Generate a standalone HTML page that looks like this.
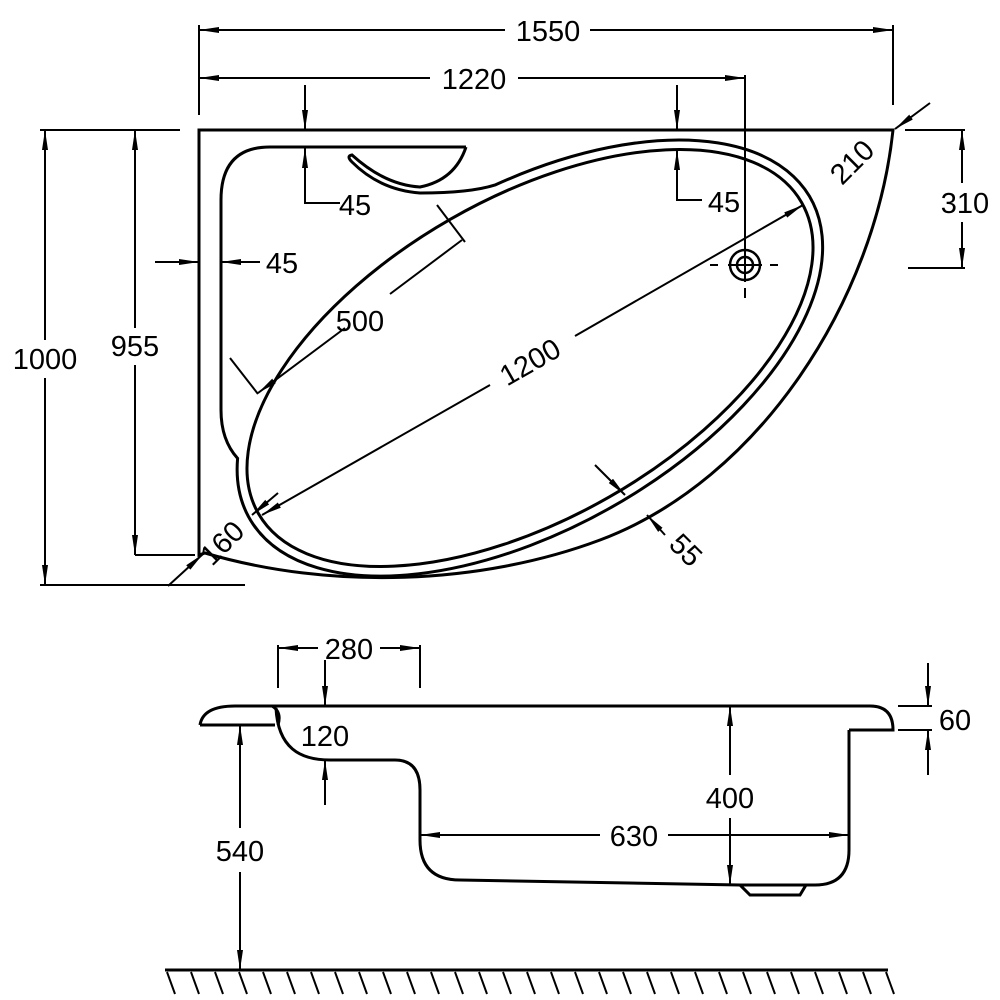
<!DOCTYPE html>
<html><head><meta charset="utf-8"><style>
html,body{margin:0;padding:0;background:#fff}
svg{display:block}
text{font-family:"Liberation Sans",sans-serif;font-size:29px;fill:#000}
</style></head><body>
<svg width="1000" height="1000" viewBox="0 0 1000 1000" xmlns="http://www.w3.org/2000/svg">
<defs>
<marker id="a" viewBox="0 0 20 8" refX="20" refY="4" markerWidth="20" markerHeight="8" markerUnits="userSpaceOnUse" orient="auto-start-reverse">
<path d="M0,1 L20,4 L0,7 Z" fill="#000"/>
</marker>
</defs>
<g fill="none" stroke="#000" stroke-width="3">
<path d="M199,555 L199,130 L893,130 C875,300 760,480 600,540 C480,585 330,590 205,553 Z"/>
<ellipse cx="530" cy="358" rx="313" ry="160" transform="rotate(-29.8 530 358)"/>
<path d="M466,147 L270,147 Q221,147 221,200 L221,410 Q221,440 237.6,458.4 A323,170 -29.8 1 0 495.6,184.8 Q470,193 420,193 Q380,190 352,162 Q346,156 352,155 Q385,185 420,187 Q455,180 466,147"/>
<circle cx="745" cy="265" r="15" stroke-width="2.5"/>
<circle cx="745" cy="265" r="8" stroke-width="2.5"/>
</g>
<g fill="none" stroke="#000" stroke-width="2">
<line x1="745" y1="250" x2="745" y2="282"/><line x1="728" y1="265" x2="762" y2="265"/>
<path d="M710,265 h8 M770,265 h8 M745,288 v10" />
<line x1="199" y1="25" x2="199" y2="115"/><line x1="893" y1="25" x2="893" y2="105"/>
<line x1="199" y1="30" x2="505" y2="30" marker-start="url(#a)"/>
<line x1="590" y1="30" x2="893" y2="30" marker-end="url(#a)"/>
<line x1="745" y1="75" x2="745" y2="250"/>
<line x1="199" y1="78" x2="430" y2="78" marker-start="url(#a)"/>
<line x1="518" y1="78" x2="745" y2="78" marker-end="url(#a)"/>
<line x1="305" y1="85" x2="305" y2="130" marker-end="url(#a)"/>
<path d="M305,148 L305,203 L340,203" marker-start="url(#a)"/>
<line x1="677" y1="85" x2="677" y2="130" marker-end="url(#a)"/>
<path d="M677,150 L677,200 L702,200" marker-start="url(#a)"/>
<line x1="155" y1="262" x2="199" y2="262" marker-end="url(#a)"/>
<line x1="260" y1="262" x2="221" y2="262" marker-end="url(#a)"/>
<line x1="40" y1="130" x2="180" y2="130"/><line x1="40" y1="585" x2="245" y2="585"/>
<line x1="45" y1="130" x2="45" y2="340" marker-start="url(#a)"/>
<line x1="45" y1="378" x2="45" y2="585" marker-end="url(#a)"/>
<line x1="135" y1="555" x2="195" y2="555"/>
<line x1="135" y1="130" x2="135" y2="328" marker-start="url(#a)"/>
<line x1="135" y1="365" x2="135" y2="555" marker-end="url(#a)"/>
<line x1="905" y1="130" x2="965" y2="130"/><line x1="908" y1="268" x2="965" y2="268"/>
<line x1="962" y1="130" x2="962" y2="183" marker-start="url(#a)"/>
<line x1="962" y1="222" x2="962" y2="268" marker-end="url(#a)"/>
<line x1="930" y1="103" x2="895" y2="129" marker-end="url(#a)"/>
<line x1="262" y1="515" x2="490" y2="385" marker-start="url(#a)"/>
<line x1="575" y1="336" x2="803" y2="205" marker-end="url(#a)"/>
<line x1="258" y1="393" x2="345" y2="328" marker-start="url(#a)"/>
<line x1="390" y1="294" x2="462" y2="240"/>
<line x1="437" y1="205" x2="465" y2="242"/>
<line x1="230" y1="358" x2="258" y2="394"/>
<line x1="595" y1="465" x2="625" y2="495" marker-end="url(#a)"/>
<line x1="665" y1="535" x2="647" y2="515" marker-end="url(#a)"/>
<line x1="278" y1="493" x2="252" y2="515" marker-end="url(#a)"/>
<line x1="168" y1="586" x2="203" y2="554" marker-end="url(#a)"/>
</g>
<g fill="none" stroke="#000" stroke-width="3">
<path d="M200,725 Q203,706 235,706 L855,706"/>
<path d="M200,725 L275,725 M235,706 L272,706 Q282,712 278,725"/>
<path d="M276,708 C278,748 300,760 330,760 L395,760 Q420,760 420,790 L420,840 Q420,880 460,880 L740,885"/>
<path d="M849,730 L849,850 Q849,885 815,885 L740,885 L750,895 L800,895 L806,885"/>
<path d="M849,730 L893,730 Q893,706 870,706 L855,706"/>
</g>
<g fill="none" stroke="#000" stroke-width="2">
<line x1="278" y1="645" x2="278" y2="688"/><line x1="420" y1="645" x2="420" y2="688"/>
<line x1="278" y1="648" x2="318" y2="648" marker-start="url(#a)"/>
<line x1="380" y1="648" x2="420" y2="648" marker-end="url(#a)"/>
<line x1="325" y1="660" x2="325" y2="706" marker-end="url(#a)"/>
<line x1="325" y1="805" x2="325" y2="760" marker-end="url(#a)"/>
<line x1="240" y1="725" x2="240" y2="828" marker-start="url(#a)"/>
<line x1="240" y1="872" x2="240" y2="970" marker-end="url(#a)"/>
<line x1="730" y1="706" x2="730" y2="775" marker-start="url(#a)"/>
<line x1="730" y1="818" x2="730" y2="885" marker-end="url(#a)"/>
<line x1="420" y1="835" x2="600" y2="835" marker-start="url(#a)"/>
<line x1="668" y1="835" x2="849" y2="835" marker-end="url(#a)"/>
<line x1="898" y1="706" x2="932" y2="706"/><line x1="898" y1="730" x2="932" y2="730"/>
<line x1="928" y1="663" x2="928" y2="706" marker-end="url(#a)"/>
<line x1="928" y1="775" x2="928" y2="730" marker-end="url(#a)"/>
</g>
<line x1="165" y1="970" x2="888" y2="970" stroke="#000" stroke-width="3"/>
<g stroke="#000" stroke-width="2">
<path d="M167,972 l8,22 M191,972 l8,22 M215,972 l8,22 M239,972 l8,22 M263,972 l8,22 M287,972 l8,22 M311,972 l8,22 M335,972 l8,22 M359,972 l8,22 M383,972 l8,22 M407,972 l8,22 M431,972 l8,22 M455,972 l8,22 M479,972 l8,22 M503,972 l8,22 M527,972 l8,22 M551,972 l8,22 M575,972 l8,22 M599,972 l8,22 M623,972 l8,22 M647,972 l8,22 M671,972 l8,22 M695,972 l8,22 M719,972 l8,22 M743,972 l8,22 M767,972 l8,22 M791,972 l8,22 M815,972 l8,22 M839,972 l8,22 M863,972 l8,22 M886,972 l8,22"/>
</g>
<g text-anchor="middle">
<text x="548" y="41">1550</text>
<text x="474" y="89">1220</text>
<text x="355" y="215">45</text>
<text x="724" y="212">45</text>
<text x="282" y="273">45</text>
<text x="45" y="369">1000</text>
<text x="135" y="356">955</text>
<text x="965" y="213">310</text>
<text x="360" y="331">500</text>
<text x="530" y="372" transform="rotate(-29.8 530 362)">1200</text>
<text x="852" y="172" transform="rotate(-45 852 162)">210</text>
<text x="222" y="553" transform="rotate(-45 222 543)">160</text>
<text x="686" y="560" transform="rotate(45 686 550)">55</text>
<text x="349" y="659">280</text>
<text x="325" y="746">120</text>
<text x="240" y="861">540</text>
<text x="730" y="808">400</text>
<text x="634" y="846">630</text>
<text x="955" y="730">60</text>
</g>
</svg>
</body></html>
